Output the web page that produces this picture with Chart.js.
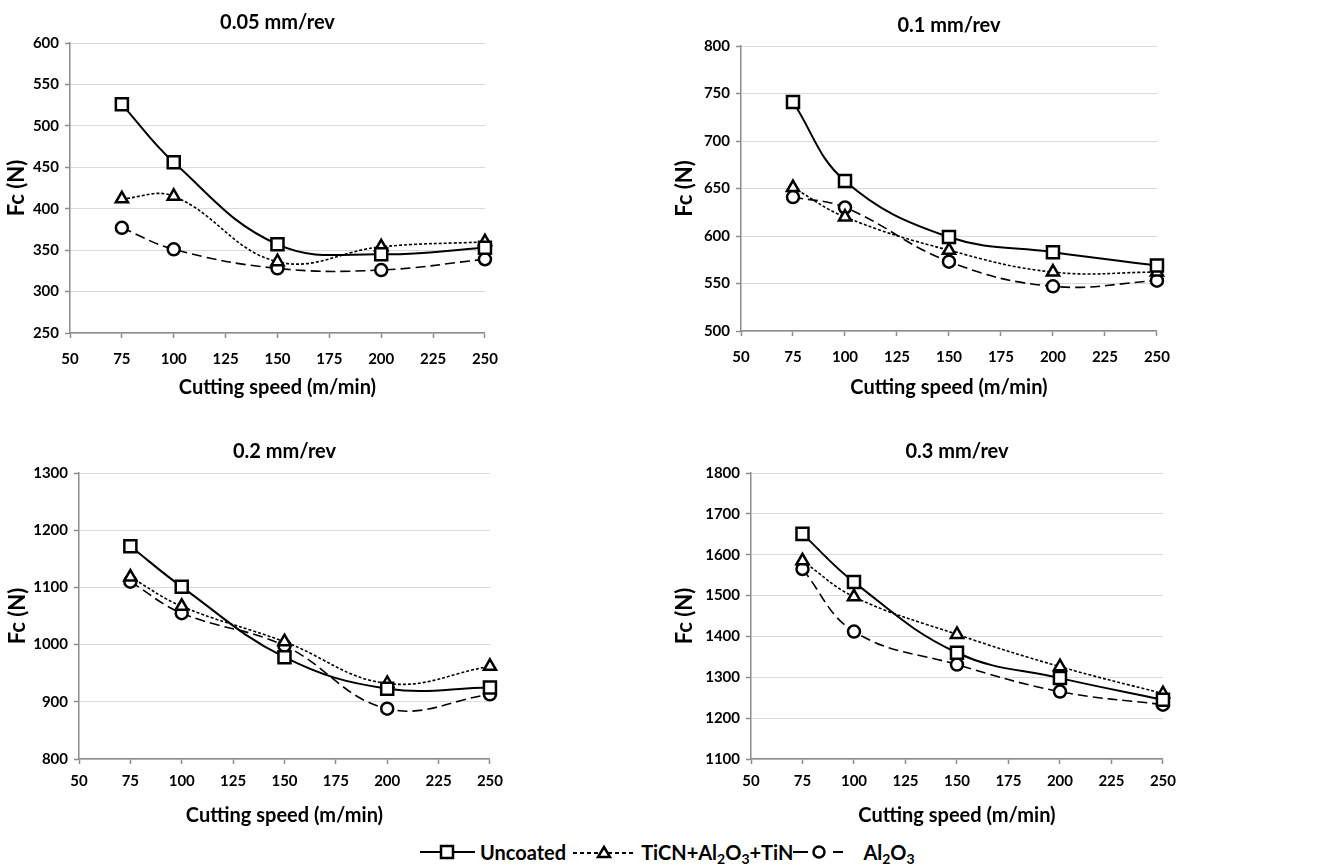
<!DOCTYPE html>
<html>
<head>
<meta charset="utf-8">
<script src="https://cdn.jsdelivr.net/npm/chart.js@4.4.0/dist/chart.umd.min.js"></script>
<style>
  body { margin: 0; background: #fff; width: 1322px; height: 866px; position: relative; overflow: hidden; font-family: Lato, sans-serif; }
  canvas { position: absolute; }
  #legend { position: absolute; left: 420px; top: 840px; height: 24px; display: flex; align-items: center; font-weight: bold; font-size: 20px; color: #000; white-space: nowrap; }
  #legend svg { display: block; }
  #legend sub { font-size: 14px; vertical-align: -4px; line-height: 0; }
</style>
</head>
<body>
<canvas id="c1" width="510" height="410" style="left:0;top:0"></canvas>
<canvas id="c2" width="514" height="410" style="left:668px;top:0"></canvas>
<canvas id="c3" width="511" height="420" style="left:0;top:420px"></canvas>
<canvas id="c4" width="516" height="420" style="left:668px;top:420px"></canvas>

<div id="legend">
  <svg width="55" height="16"><line x1="0" y1="8" x2="55" y2="8" stroke="#000" stroke-width="2"/><rect x="21" y="2" width="12" height="12" fill="#fff" stroke="#000" stroke-width="2.5"/></svg>
  <span style="margin-left:5px">Uncoated</span>
  <svg width="63" height="16" style="margin-left:7px"><line x1="0" y1="9" x2="63" y2="9" stroke="#000" stroke-width="2" stroke-dasharray="4,3"/><polygon points="31,3 37,13 25,13" fill="#fff" stroke="#000" stroke-width="2.5"/></svg>
  <span style="margin-left:5px">TiCN+Al<sub>2</sub>O<sub>3</sub>+TiN</span>
  <svg width="68" height="16"><line x1="0" y1="8" x2="15" y2="8" stroke="#000" stroke-width="2"/><line x1="40" y1="8" x2="50" y2="8" stroke="#000" stroke-width="2"/><circle cx="26" cy="8" r="5.5" fill="#fff" stroke="#000" stroke-width="2.5"/></svg>
  <span style="margin-left:2px">Al<sub>2</sub>O<sub>3</sub></span>
</div>

<script>
// cutting speed (m/min)
const speeds = [75, 100, 150, 200, 250];
const xTicks = [50, 75, 100, 125, 150, 175, 200, 225, 250];

// Fc (N) for each feed rate
const unc005 = [526, 456, 357, 345, 353];
const tic005 = [412, 415, 336, 354, 360];
const al005  = [377, 351, 328, 326, 339];

const unc01 = [741, 658, 599, 583, 569];
const tic01 = [651, 620, 585, 562, 562];
const al01  = [641, 630, 573, 547, 553];

const unc02 = [1172, 1101, 978, 923, 925];
const tic02 = [1118, 1067, 1005, 932, 962];
const al02  = [1110, 1055, 998, 888, 913];

const unc03 = [1651, 1533, 1360, 1298, 1245];
const tic03 = [1585, 1497, 1405, 1326, 1260];
const al03  = [1565, 1412, 1331, 1265, 1233];

const titles = ['0.05 mm/rev', '0.1 mm/rev', '0.2 mm/rev', '0.3 mm/rev'];
const yRanges = [[250, 600, 50], [500, 800, 50], [800, 1300, 100], [1100, 1800, 100]];

const FONT = 'Lato, sans-serif';

function pts(vals) {
  return vals.map((v, i) => ({ x: speeds[i], y: v }));
}

// ---------- one panel ----------
function panel(id, title, unc, tic, al, yr, box) {
  const ctx = document.getElementById(id).getContext('2d');
  return new Chart(ctx, {
    type: 'line',
    data: {
      datasets: [
        {
          label: 'Uncoated', data: pts(unc), borderColor: '#000', borderWidth: 2,
          pointStyle: 'rect', pointRadius: 8.5, pointBorderWidth: 2.5,
          pointBackgroundColor: '#fff', pointBorderColor: '#000', tension: 0.4, clip: false
        },
        {
          label: 'TiCN+Al2O3+TiN', data: pts(tic), borderColor: '#000', borderWidth: 1.6, borderDash: [3, 2],
          pointStyle: 'triangle', pointRadius: 7, pointBorderWidth: 2.5,
          pointBackgroundColor: '#fff', pointBorderColor: '#000', tension: 0.4, clip: false
        },
        {
          label: 'Al2O3', data: pts(al), borderColor: '#000', borderWidth: 1.6, borderDash: [10, 5],
          pointStyle: 'circle', pointRadius: 6, pointBorderWidth: 2.5,
          pointBackgroundColor: '#fff', pointBorderColor: '#000', tension: 0.4, clip: false
        }
      ]
    },
    options: {
      responsive: false,
      animation: false,
      layout: { padding: { left: 0, right: 10, top: 0, bottom: 0 } },
      plugins: {
        legend: { display: false },
        tooltip: { enabled: false },
        title: {
          display: true, text: title, fullSize: false, color: '#000',
          font: { family: FONT, size: 20, weight: 'bold' },
          padding: { top: box.tTop, bottom: box.tBottom }
        }
      },
      scales: {
        x: {
          type: 'linear', min: 50, max: 250,
          afterBuildTicks: (s) => { s.ticks = xTicks.map(v => ({ value: v })); },
          afterFit: (s) => { s.height = box.xh; },
          grid: { drawOnChartArea: false, drawTicks: true, tickLength: 5, tickColor: '#8c8c8c', tickWidth: 1.5 },
          border: { color: '#8c8c8c', width: 1.5 },
          ticks: { color: '#000', padding: box.xPad, maxRotation: 0, font: { family: FONT, size: 15, weight: 'bold' } },
          title: {
            display: true, text: 'Cutting speed (m/min)', color: '#000',
            font: { family: FONT, size: 20, weight: 'bold' },
            padding: { top: 0, bottom: box.xtPad }
          }
        },
        y: {
          min: yr[0], max: yr[1],
          ticks: {
            stepSize: yr[2], color: '#000', padding: 6,
            font: { family: FONT, size: 15, weight: 'bold' },
            callback: (v) => String(v)
          },
          afterFit: (s) => { s.width = box.yw; },
          grid: { color: '#b4b4b4', lineWidth: 1, tickLength: 5, tickColor: '#8c8c8c', tickWidth: 1.5 },
          border: { color: '#8c8c8c', width: 1.5, dash: [1, 1] },
          title: {
            display: true, text: 'Fc (N)', color: '#000',
            font: { family: FONT, size: 22, weight: 'bold' },
            padding: { top: box.ytPad, bottom: 0 }
          }
        }
      }
    }
  });
}

panel('c1', titles[0], unc005, tic005, al005, yRanges[0],
  { tTop: 11, tBottom: 8, xh: 77, xPad: 12, xtPad: 10, yw: 70, ytPad: 4 });
panel('c2', titles[1], unc01, tic01, al01, yRanges[1],
  { tTop: 14, tBottom: 8, xh: 79, xPad: 12, xtPad: 10, yw: 73, ytPad: 4 });
panel('c3', titles[2], unc02, tic02, al02, yRanges[2],
  { tTop: 20, tBottom: 9, xh: 81, xPad: 8, xtPad: 12, yw: 79, ytPad: 5 });
panel('c4', titles[3], unc03, tic03, al03, yRanges[3],
  { tTop: 20, tBottom: 9, xh: 81, xPad: 8, xtPad: 12, yw: 83, ytPad: 4 });
</script>
</body>
</html>
